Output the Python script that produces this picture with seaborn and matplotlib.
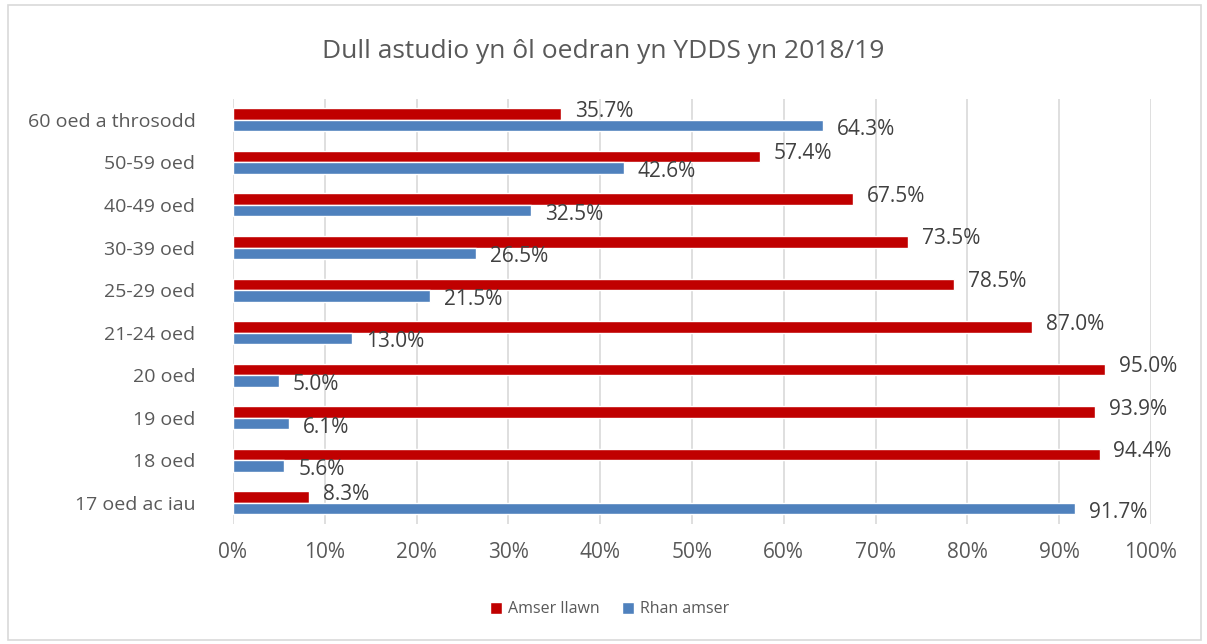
import matplotlib
matplotlib.use("Agg")
import matplotlib.pyplot as plt
import seaborn as sns
import pandas as pd
from matplotlib.ticker import PercentFormatter
from matplotlib.patches import Rectangle

categories = ["60 oed a throsodd", "50-59 oed", "40-49 oed", "30-39 oed", "25-29 oed",
              "21-24 oed", "20 oed", "19 oed", "18 oed", "17 oed ac iau"]
amser_llawn = [35.7, 57.4, 67.5, 73.5, 78.5, 87.0, 95.0, 93.9, 94.4, 8.3]
rhan_amser = [64.3, 42.6, 32.5, 26.5, 21.5, 13.0, 5.0, 6.1, 5.6, 91.7]
series = ["Amser llawn", "Rhan amser"]
colors = ["#C00000", "#4F81BD"]
title = "Dull astudio yn ôl oedran yn YDDS yn 2018/19"

df = pd.DataFrame({
    "cat": categories * 2,
    "val": amser_llawn + rhan_amser,
    "series": [series[0]] * len(categories) + [series[1]] * len(categories),
})

sns.set_theme(style="white")
plt.rcParams["font.family"] = ["Open Sans", "DejaVu Sans"]

fig = plt.figure(figsize=(12.07, 6.44), dpi=100)
ax = fig.add_axes([0.193, 0.186, 0.7606, 0.661])

sns.barplot(data=df, y="cat", x="val", hue="series", order=categories,
            hue_order=series, palette=colors, orient="h", width=0.54,
            saturation=1, ax=ax, legend=True)

ax.set_xlim(0, 100)
ax.set_ylim(len(categories) - 0.5, -0.5)
ax.xaxis.set_major_formatter(PercentFormatter(decimals=0))
ax.set_xticks(range(0, 101, 10))
ax.grid(axis="x", color="#D9D9D9", linewidth=1.2)
ax.set_axisbelow(True)
for s in ax.spines.values():
    s.set_visible(False)
ax.set_xlabel("")
ax.set_ylabel("")
ax.tick_params(axis="x", labelsize=15, labelcolor="#595959", length=0, pad=13)
ax.tick_params(axis="y", labelsize=14, labelcolor="#595959", length=0, pad=27)

vals = [amser_llawn, rhan_amser]
dys = [2, -2.5]
for cont, v, dy in zip(ax.containers, vals, dys):
    for bar, value in zip(cont, v):
        y = bar.get_y() + bar.get_height() / 2
        ax.annotate(f"{value:.1f}%", xy=(bar.get_width(), y), xytext=(10, dy),
                    textcoords="offset points", ha="left", va="center",
                    fontsize=15, color="#404040", annotation_clip=False)

ax.get_legend().remove()
handles, labels = ax.get_legend_handles_labels()
leg = fig.legend(handles, labels, loc="center", bbox_to_anchor=(0.505, 0.054), ncol=2,
                 frameon=False, fontsize=11.5, handlelength=0.75, handleheight=0.75,
                 handletextpad=0.4, columnspacing=1.4)
for t in leg.get_texts():
    t.set_color("#595959")

fig.text(0.5, 0.92, title, ha="center", va="center", fontsize=19, color="#595959")
fig.patches.append(Rectangle((0.007, 0.006), 0.988, 0.986, transform=fig.transFigure,
                             fill=False, edgecolor="#D9D9D9", linewidth=1.2))

fig.savefig("out.png", dpi=100)
